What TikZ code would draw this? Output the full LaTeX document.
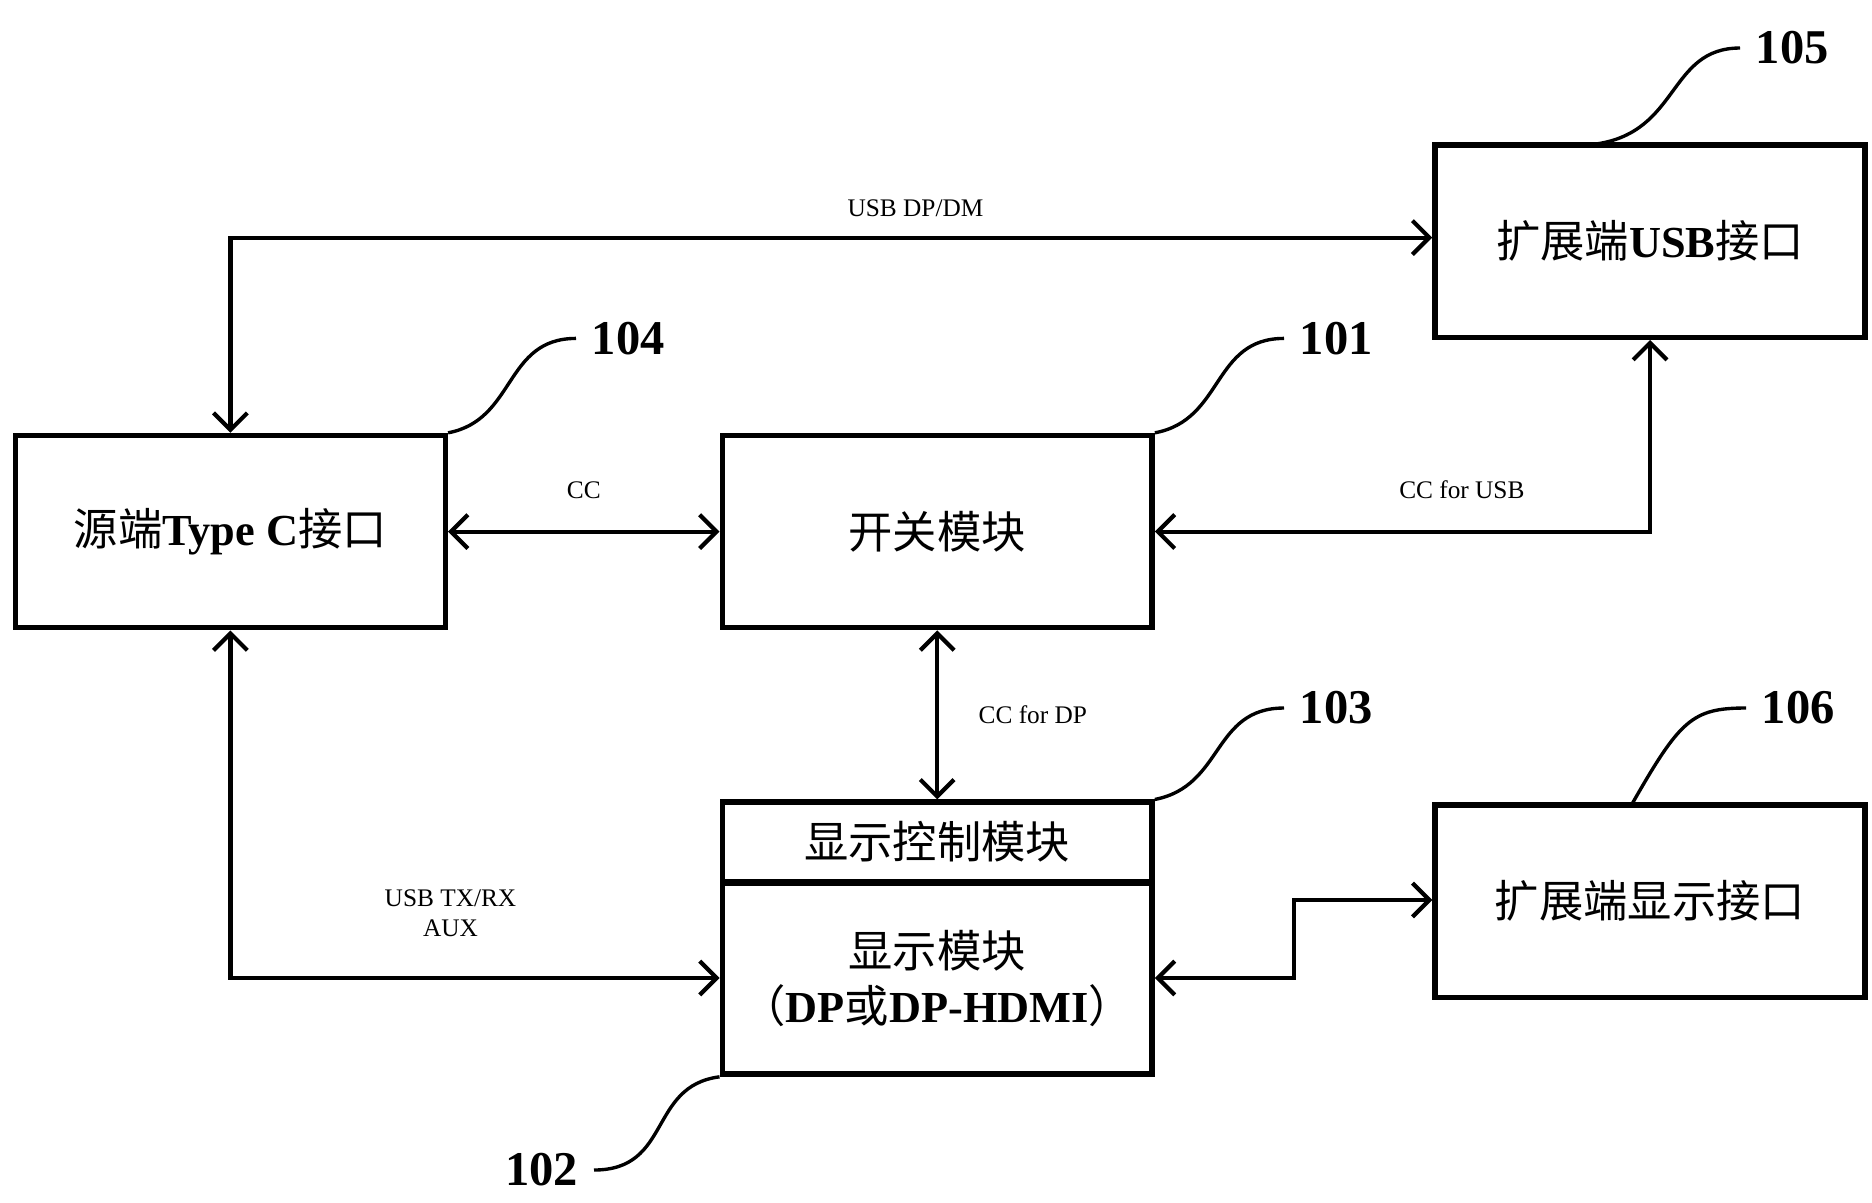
\documentclass[tikz,border=0pt]{standalone}
\usepackage{fontspec}
\setmainfont{Liberation Serif}
\newfontfamily\cjk{Noto Sans CJK SC}
\usetikzlibrary{arrows.meta}
\begin{document}
\begin{tikzpicture}[x=0.01cm,y=-0.01cm]
        \tikzset{block/.style = {draw,line width=1.3pt,inner sep=0pt,minimum width=3.58cm,minimum height=1.6cm,font=\fontsize{10.5}{13}\selectfont}}
        \tikzset{link/.style = {{Straight Barb[length=4pt]}-{Straight Barb[length=4pt]},line width=1pt}}
        \tikzset{sig/.style = {font=\fontsize{6}{7}\selectfont}}
        \tikzset{num/.style = {font=\fontsize{11.5}{14}\selectfont\bfseries}}
        \useasboundingbox (0,0) rectangle (1560,1002);
        % blocks
        \node[block] (src) at (192,443) {{\cjk 源端}\textbf{Type C}{\cjk 接口}};
        \node[block] (sw) at (781,443) {\cjk 开关模块};
        \node[block] (usb) at (1375,201) {{\cjk 扩展端}\textbf{USB}{\cjk 接口}};
        \node[block,minimum height=0.66cm] (ctl) at (781,701.5) {\cjk 显示控制模块};
        \node[block,minimum height=1.59cm,align=center] (disp) at (781,815.5) {{\cjk 显示模块}\\{\cjk （}\textbf{DP}{\cjk 或}\textbf{DP-HDMI}{\cjk ）}};
        \node[block] (ext) at (1375,751) {\cjk 扩展端显示接口};
        % helper points
        \coordinate (tl) at (192,198);
        \coordinate (ur) at (1375,443);
        \coordinate (bl) at (192,815);
        \coordinate (j1) at (1078,815);
        \coordinate (j2) at (1078,750);
        %edges
        \draw[link] (src.north -| tl) -- (tl) -- (usb.west |- tl) node[sig,pos=0.57,above=1pt] {USB DP/DM};
        \draw[link] (src) -- (sw) node[sig,midway,above=4pt] {CC};
        \draw[link] (sw) -- (ur) node[sig,pos=0.62,above=4pt] {CC for USB} -- (usb.south);
        \draw[link] (sw) -- (ctl) node[sig,midway,right=6pt] {CC for DP};
        \draw[link] (src.south -| bl) -- (bl) -- (disp.west |- bl) node[sig,pos=0.45,above=6pt,align=center] {USB TX/RX\\AUX};
        \draw[link] (disp.east |- j1) -- (j1) -- (j2) -- (ext.west |- j2);
        % callouts
        \draw[line width=0.8pt] (src.north east) .. controls (430,350) and (420,282) .. (480,282) node[num,right] {104};
        \draw[line width=0.8pt] (sw.north east) .. controls (1020,350) and (1010,282) .. (1070,282) node[num,right] {101};
        \draw[line width=0.8pt] (1330,120) .. controls (1400,110) and (1390,40) .. (1450,40) node[num,right] {105};
        \draw[line width=0.8pt] (ctl.north east) .. controls (1020,655) and (1010,590) .. (1070,590) node[num,right] {103};
        \draw[line width=0.8pt] (1360,670) .. controls (1400,600) and (1410,590) .. (1455,590) node[num,right] {106};
        \draw[line width=0.8pt] (disp.south west) .. controls (540,905) and (560,975) .. (495,975) node[num,left] {102};
\end{tikzpicture}
\end{document}
